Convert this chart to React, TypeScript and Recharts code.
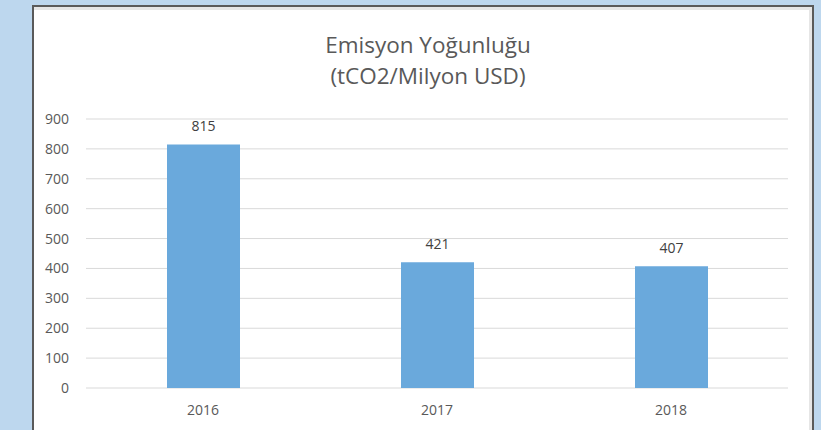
import { BarChart, Bar, XAxis, YAxis, CartesianGrid, LabelList } from 'recharts';

// ── Data ───────────────────────────────────────────────────────────────────

const YEARS = ['2016', '2017', '2018'];
const INTENSITY = [815, 421, 407];
const Y_TICKS = [0, 100, 200, 300, 400, 500, 600, 700, 800, 900];

const TITLE_LINE_1 = 'Emisyon Yoğunluğu';
const TITLE_LINE_2 = '(tCO2/Milyon USD)';

const chartData = YEARS.map((year, i) => ({ year, value: INTENSITY[i] }));

const FONT = '"Open Sans", Lato, sans-serif';

export default function App() {
  return (
    <div
      style={{
        position: 'fixed', left: 0, top: 0, width: 821, height: 430,
        background: '#BDD7EE', overflow: 'hidden', fontFamily: FONT,
      }}
    >
      {/* white panel with dark frame */}
      <div
        style={{
          position: 'absolute', left: 32, top: 5, width: 778, height: 460,
          background: '#FFFFFF',
          borderTop: '2px solid #5A5A5A',
          borderLeft: '2px solid #5A5A5A',
          borderRight: '2px solid #5A5A5A',
          boxShadow: 'inset -3px 3px 0 #E6E6E6',
        }}
      />

      {/* title, two lines */}
      <div
        style={{
          position: 'absolute', left: 228, top: 28.5, width: 400,
          textAlign: 'center', color: '#595959', fontSize: 22.5, lineHeight: '31px',
        }}
      >
        <div>{TITLE_LINE_1}</div>
        <div>{TITLE_LINE_2}</div>
      </div>

      <BarChart
        width={821}
        height={430}
        data={chartData}
        margin={{ top: 119, right: 33, bottom: 0, left: 0 }}
        style={{ position: 'absolute', left: 0, top: 0 }}
      >
        <CartesianGrid vertical={false} stroke="#D9D9D9" strokeWidth={1} />
        <XAxis
          dataKey="year"
          height={42}
          axisLine={false}
          tickLine={false}
          tickSize={0}
          tickMargin={17}
          tick={{ fill: '#595959', fontSize: 14, fontFamily: FONT }}
        />
        <YAxis
          width={86}
          domain={[0, 900]}
          ticks={Y_TICKS}
          axisLine={false}
          tickLine={false}
          tickSize={0}
          tickMargin={17}
          tick={{ fill: '#595959', fontSize: 14, fontFamily: FONT }}
        />
        <Bar dataKey="value" fill="#6AA9DC" barSize={73} isAnimationActive={false}>
          <LabelList
            dataKey="value"
            position="top"
            offset={13}
            fill="#404040"
            fontSize={14}
            fontFamily={FONT}
          />
        </Bar>
      </BarChart>
    </div>
  );
}
